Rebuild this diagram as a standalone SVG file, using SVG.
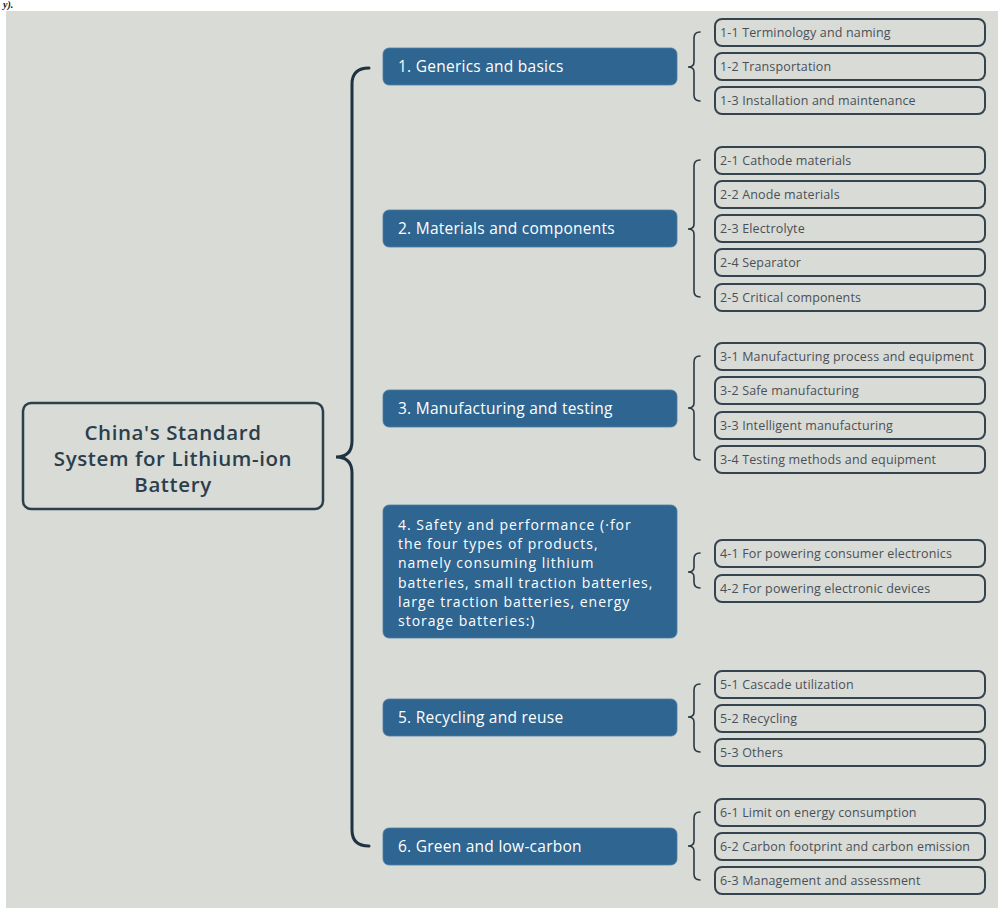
<svg xmlns="http://www.w3.org/2000/svg" width="998" height="909" viewBox="0 0 998 909">
<style>
.root{fill:none;stroke:#2b3f4c;stroke-width:2.5}
.rootT{font-family:"Open Sans","Liberation Sans",sans-serif;font-size:20.5px;font-weight:600;fill:#2c3e4c;text-anchor:middle;letter-spacing:0.6px}
.br{fill:#2e6591;stroke:#4d7fa6;stroke-width:0.8}
.brT{font-family:"Open Sans","Liberation Sans",sans-serif;font-size:15.5px;fill:#ffffff;letter-spacing:0.25px}
.brT4{font-family:"Open Sans","Liberation Sans",sans-serif;font-size:14px;fill:#ffffff;letter-spacing:1px}
.lf{fill:none;stroke:#34444f;stroke-width:2}
.lfT{font-family:"Open Sans","Liberation Sans",sans-serif;font-size:12.5px;fill:#4a5058;letter-spacing:0.15px}
.brace{fill:none;stroke:#1f3340;stroke-width:3;stroke-linecap:round}
.sbrace{fill:none;stroke:#2a3a45;stroke-width:1.6;stroke-linecap:round}
</style>
<rect x="0" y="0" width="998" height="909" fill="#ffffff"/>
<text x="3" y="8" font-family="Liberation Serif" font-style="italic" font-weight="bold" font-size="10" fill="#111">y).</text>
<rect x="6" y="11" width="992" height="897" fill="#d9dbd6"/>

<g id="connectors">
<path class="brace" d="M369 68 Q352 68 352 84 L352 441 Q352 457 336 457 Q352 457 352 473 L352 830 Q352 846 369 846"/>
<path class="sbrace" d="M700 32 Q694 32 694 38 L694 62 Q694 67 688 67 Q694 67 694 72 L694 95 Q694 101 700 101"/>
<path class="sbrace" d="M700 160 Q694 160 694 166 L694 224 Q694 229 688 229 Q694 229 694 234 L694 291 Q694 297 700 297"/>
<path class="sbrace" d="M700 356 Q694 356 694 362 L694 403 Q694 408 688 408 Q694 408 694 413 L694 454 Q694 460 700 460"/>
<path class="sbrace" d="M700 553 Q694 553 694 559 L694 567 Q694 572 688 572 Q694 572 694 577 L694 582 Q694 588 700 588"/>
<path class="sbrace" d="M700 684 Q694 684 694 690 L694 712 Q694 717 688 717 Q694 717 694 722 L694 746 Q694 752 700 752"/>
<path class="sbrace" d="M700 812 Q694 812 694 818 L694 841 Q694 846 688 846 Q694 846 694 851 L694 874 Q694 880 700 880"/>
</g>

<g id="root">
<rect class="root" x="23" y="403" width="300" height="106" rx="8"/>
<text class="rootT" x="173" y="440">China's Standard</text>
<text class="rootT" x="173" y="466">System for Lithium-ion</text>
<text class="rootT" x="173" y="492">Battery</text>
</g>

<g id="n1"><rect class="br" x="383" y="48" width="294" height="37" rx="6"/><text class="brT" x="398" y="72">1. Generics and basics</text></g>
<g id="n2"><rect class="br" x="383" y="210" width="294" height="37" rx="6"/><text class="brT" x="398" y="234">2. Materials and components</text></g>
<g id="n3"><rect class="br" x="383" y="390" width="294" height="37" rx="6"/><text class="brT" x="398" y="414">3. Manufacturing and testing</text></g>
<g id="n4"><rect class="br" x="383" y="505" width="294" height="133" rx="6"/>
<text class="brT4" x="398" y="530">4. Safety and performance (·for</text>
<text class="brT4" x="398" y="549.2">the four types of products,</text>
<text class="brT4" x="398" y="568.4">namely consuming lithium</text>
<text class="brT4" x="398" y="587.6">batteries, small traction batteries,</text>
<text class="brT4" x="398" y="606.8">large traction batteries, energy</text>
<text class="brT4" x="398" y="626">storage batteries:)</text>
</g>
<g id="n5"><rect class="br" x="383" y="699" width="294" height="37" rx="6"/><text class="brT" x="398" y="723">5. Recycling and reuse</text></g>
<g id="n6"><rect class="br" x="383" y="828" width="294" height="37" rx="6"/><text class="brT" x="398" y="852">6. Green and low-carbon</text></g>

<g id="l1-1"><rect class="lf" x="715" y="19" width="270" height="27" rx="7"/><text class="lfT" x="720" y="36.5">1-1 Terminology and naming</text></g>
<g id="l1-2"><rect class="lf" x="715" y="53" width="270" height="27" rx="7"/><text class="lfT" x="720" y="70.5">1-2 Transportation</text></g>
<g id="l1-3"><rect class="lf" x="715" y="87" width="270" height="27" rx="7"/><text class="lfT" x="720" y="104.5">1-3 Installation and maintenance</text></g>

<g id="l2-1"><rect class="lf" x="715" y="147" width="270" height="27" rx="7"/><text class="lfT" x="720" y="164.5">2-1 Cathode materials</text></g>
<g id="l2-2"><rect class="lf" x="715" y="181" width="270" height="27" rx="7"/><text class="lfT" x="720" y="198.5">2-2 Anode materials</text></g>
<g id="l2-3"><rect class="lf" x="715" y="215" width="270" height="27" rx="7"/><text class="lfT" x="720" y="232.5">2-3 Electrolyte</text></g>
<g id="l2-4"><rect class="lf" x="715" y="249" width="270" height="27" rx="7"/><text class="lfT" x="720" y="266.5">2-4 Separator</text></g>
<g id="l2-5"><rect class="lf" x="715" y="284" width="270" height="27" rx="7"/><text class="lfT" x="720" y="301.5">2-5 Critical components</text></g>

<g id="l3-1"><rect class="lf" x="715" y="343" width="270" height="27" rx="7"/><text class="lfT" x="720" y="360.5">3-1 Manufacturing process and equipment</text></g>
<g id="l3-2"><rect class="lf" x="715" y="377" width="270" height="27" rx="7"/><text class="lfT" x="720" y="394.5">3-2 Safe manufacturing</text></g>
<g id="l3-3"><rect class="lf" x="715" y="412" width="270" height="27" rx="7"/><text class="lfT" x="720" y="429.5">3-3 Intelligent manufacturing</text></g>
<g id="l3-4"><rect class="lf" x="715" y="446" width="270" height="27" rx="7"/><text class="lfT" x="720" y="463.5">3-4 Testing methods and equipment</text></g>

<g id="l4-1"><rect class="lf" x="715" y="540" width="270" height="27" rx="7"/><text class="lfT" x="720" y="557.5">4-1 For powering consumer electronics</text></g>
<g id="l4-2"><rect class="lf" x="715" y="575" width="270" height="27" rx="7"/><text class="lfT" x="720" y="592.5">4-2 For powering electronic devices</text></g>

<g id="l5-1"><rect class="lf" x="715" y="671" width="270" height="27" rx="7"/><text class="lfT" x="720" y="688.5">5-1 Cascade utilization</text></g>
<g id="l5-2"><rect class="lf" x="715" y="705" width="270" height="27" rx="7"/><text class="lfT" x="720" y="722.5">5-2 Recycling</text></g>
<g id="l5-3"><rect class="lf" x="715" y="739" width="270" height="27" rx="7"/><text class="lfT" x="720" y="756.5">5-3 Others</text></g>

<g id="l6-1"><rect class="lf" x="715" y="799" width="270" height="27" rx="7"/><text class="lfT" x="720" y="816.5">6-1 Limit on energy consumption</text></g>
<g id="l6-2"><rect class="lf" x="715" y="833" width="270" height="27" rx="7"/><text class="lfT" x="720" y="850.5">6-2 Carbon footprint and carbon emission</text></g>
<g id="l6-3"><rect class="lf" x="715" y="867" width="270" height="27" rx="7"/><text class="lfT" x="720" y="884.5">6-3 Management and assessment</text></g>
</svg>
